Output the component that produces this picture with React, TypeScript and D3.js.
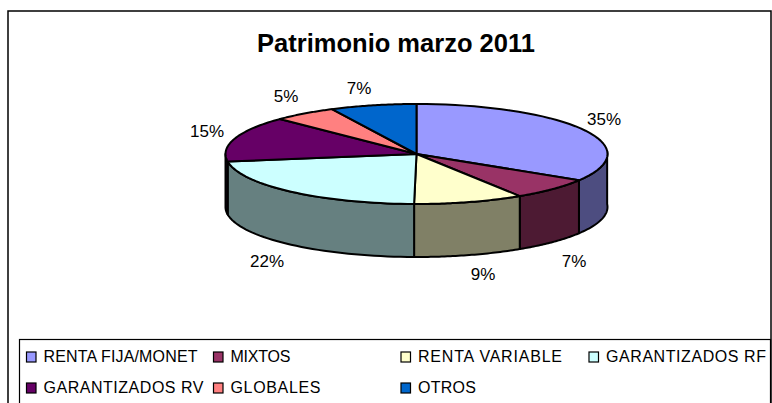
import React from 'react';
import * as d3 from 'd3';

const title = 'Patrimonio marzo 2011';
const categories = ['RENTA FIJA/MONET', 'MIXTOS', 'RENTA VARIABLE', 'GARANTIZADOS RF', 'GARANTIZADOS RV', 'GLOBALES', 'OTROS'];
const shares = [34.6, 6.8, 8.8, 22.4, 14.7, 5.4, 7.3];
const topColors = ['#9999ff', '#993366', '#ffffcc', '#ccffff', '#660066', '#ff8080', '#0066cc'];
const sideColors = ['#4d4d80', '#4d1a33', '#808066', '#668080', '#330033', '#804040', '#003366'];
const labelX = [604, 574, 483, 267, 207, 286, 359];
const labelY = [125, 267, 280, 267, 137, 102, 94];
const legendCols = [43.5, 230.5, 418, 606];
const legendRows = [362, 393];
const legendWidths = [154, 60, 144, 160, 160, 90, 58];

const W = 772;
const H = 403;
const cx = 416.5;
const cy = 154;
const rx = 191;
const ry = 50;
const depth = 53;

// slight foreshortening of the front right side, as in the 3D original
const warp = (a: number) => a - 0.06 * Math.max(Math.sin(a), 0);
const px = (a: number) => cx + rx * Math.sin(warp(a));
const py = (a: number) => cy - ry * Math.cos(warp(a));

const arcPoints = (a0: number, a1: number) =>
  d3.range(0, 41).map(i => {
    const a = a0 + ((a1 - a0) * i) / 40;
    return [px(a), py(a)] as [number, number];
  });

const line = d3.line();

const slices = d3.pie<number>().sort(null).value(d => d)(shares);
const pct = d3.format('.0f');

// side walls only exist on the near half of the ellipse
const walls = slices
  .map((s, i) => {
    const a0 = Math.max(s.startAngle, Math.PI / 2);
    const a1 = Math.min(s.endAngle, (3 * Math.PI) / 2);
    if (a1 <= a0) return null;
    const top = arcPoints(a0, a1);
    const bottom = top.map(([x, y]) => [x, y + depth] as [number, number]).reverse();
    return { i, d: line([...top, ...bottom])! + 'Z' };
  })
  .filter(Boolean) as { i: number; d: string }[];

export default function App() {
  return (
    <svg
      width={W}
      height={H}
      style={{ position: 'absolute', left: 0, top: 0 }}
      fontFamily="'Liberation Sans', Arial, sans-serif"
    >
      <rect x={0} y={0} width={W} height={H} fill="#fff" />
      <rect x={8} y={11} width={763} height={394} fill="#fff" stroke="#000" strokeWidth={1.5} />
      <text x={396} y={52} textAnchor="middle" fontSize={25.5} fontWeight="bold" fill="#000">
        {title}
      </text>

      {walls.map(w => (
        <path key={w.i} d={w.d} fill={sideColors[w.i]} stroke="#000" strokeWidth={2} strokeLinejoin="round" />
      ))}
      {slices.map((s, i) => (
        <path
          key={i}
          d={line([[cx, cy], ...arcPoints(s.startAngle, s.endAngle)])! + 'Z'}
          fill={topColors[i]}
          stroke="#000"
          strokeWidth={2}
          strokeLinejoin="round"
        />
      ))}
      {shares.map((v, i) => (
        <text key={i} x={labelX[i]} y={labelY[i]} textAnchor="middle" fontSize={17} fill="#000">
          {pct(v)}%
        </text>
      ))}

      <rect x={19.5} y={339.5} width={751} height={66} fill="#fff" stroke="#000" strokeWidth={1.2} />
      {categories.map((c, i) => {
        const x = legendCols[i % 4];
        const y = legendRows[Math.floor(i / 4)];
        return (
          <g key={c}>
            <rect x={x - 17} y={y - 10} width={9.5} height={10} fill={topColors[i]} stroke="#000" strokeWidth={1.2} />
            <text x={x} y={y} fontSize={16} fill="#000" textLength={legendWidths[i]} lengthAdjust="spacing">
              {c}
            </text>
          </g>
        );
      })}
    </svg>
  );
}
